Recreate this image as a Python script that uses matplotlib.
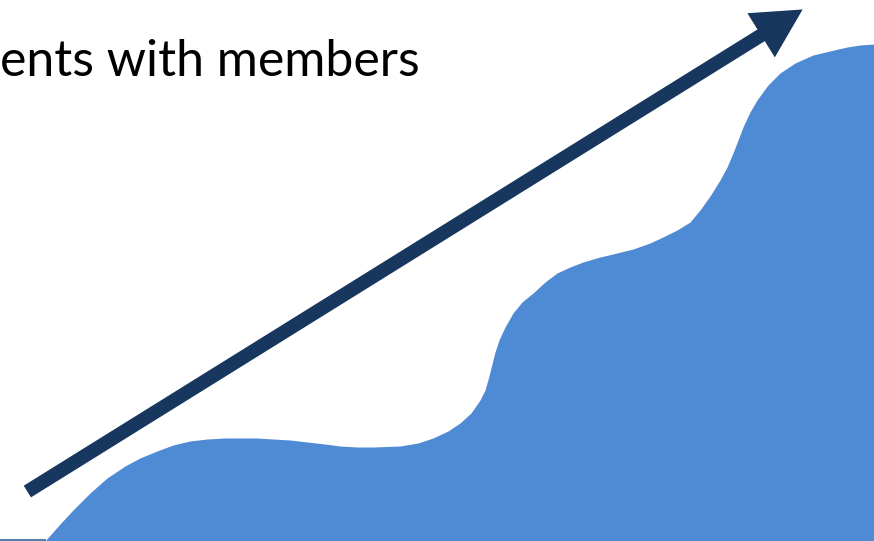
import matplotlib.pyplot as plt
from matplotlib.patches import FancyArrowPatch

# top edge of the blue area, pixel coords (y grows downward)
curve_x = [45, 60, 73, 90, 107, 125, 140, 157, 173, 190, 207, 225, 240, 257,
           273, 290, 307, 325, 340, 357, 373, 400, 418, 433, 448, 460, 471,
           480, 485, 489, 492, 495, 499, 505, 513, 522, 533, 545, 557,
           570, 583, 600, 617, 633, 650, 665, 677, 690, 700, 710, 720, 727,
           733, 738, 743, 750, 757, 768, 780, 795, 813, 830, 847, 860, 874]
curve_y = [541, 524, 510, 493, 478, 466, 458, 451, 445, 441, 439, 438, 438, 438,
           439, 440, 442, 444, 446, 447, 447, 446, 443, 438, 431, 423, 413,
           400, 390, 376, 364, 352, 340, 327, 313, 302, 293, 282, 273,
           267, 262, 257, 253, 249, 243, 236, 230, 222, 210, 196, 180, 167,
           153, 140, 127, 112, 100, 85, 73, 63, 55, 51, 47, 45, 44]

arrow_tail = (25, 493)
arrow_head = (805, 8)

label = "ents with members"

fig = plt.figure(figsize=(8.74, 5.41), dpi=100)
ax = fig.add_axes([0, 0, 1, 1])
ax.set_xlim(0, 874)
ax.set_ylim(541, 0)
ax.axis("off")

ax.fill_between(curve_x, curve_y, 541, color="#4F8BD4", linewidth=0)
ax.plot([0, 45], [540, 540], color="#5A7FA8", linewidth=1.5)

arrow = FancyArrowPatch(
    arrow_tail, arrow_head,
    arrowstyle="simple,head_length=3.2,head_width=3.4,tail_width=0.9",
    mutation_scale=11, color="#17375E", linewidth=0,
)
ax.add_patch(arrow)

ax.text(0, 76, label, fontsize=36, family=["Lato", "DejaVu Sans"],
        ha="left", va="baseline", color="black")

fig.savefig("out.png", dpi=100)
